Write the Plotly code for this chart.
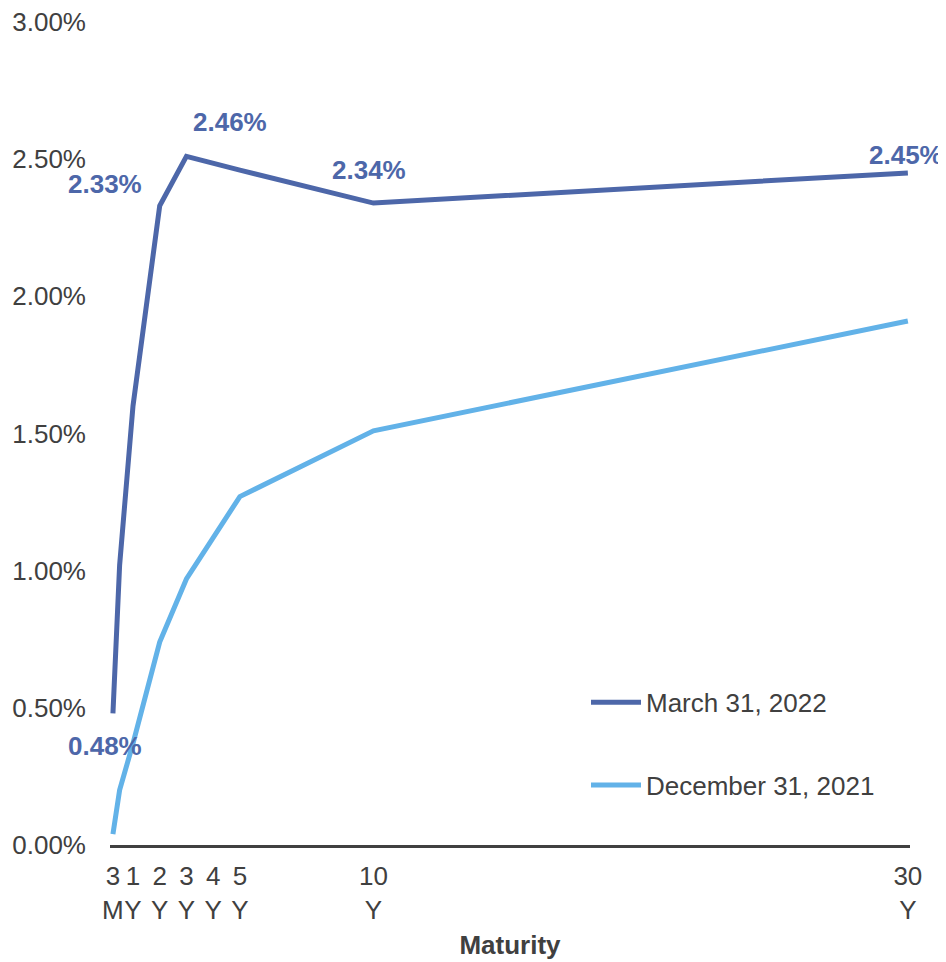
import plotly.graph_objects as go

# Maturity in years
maturity = [0.25, 0.5, 1, 2, 3, 5, 10, 30]
mar_2022 = [0.48, 1.02, 1.60, 2.33, 2.51, 2.46, 2.34, 2.45]
dec_2021 = [0.04, 0.20, 0.37, 0.74, 0.97, 1.27, 1.51, 1.91]

tick_vals = [0.25, 1, 2, 3, 4, 5, 10, 30]
tick_text = ["3<br>M", "1<br>Y", "2<br>Y", "3<br>Y", "4<br>Y", "5<br>Y", "10<br>Y", "30<br>Y"]

y_ticks = [0, 0.5, 1.0, 1.5, 2.0, 2.5, 3.0]
y_text = ["0.00%", "0.50%", "1.00%", "1.50%", "2.00%", "2.50%", "3.00%"]

# labelled points: (maturity, value, text, xshift, yshift)
labels = [
    (0.25, 0.48, "0.48%", -8, -33),
    (2, 2.33, "2.33%", -55, 22),
    (5, 2.46, "2.46%", -10, 48),
    (10, 2.34, "2.34%", -4, 33),
    (30, 2.45, "2.45%", -2, 18),
]

DARK = "#4D67A9"
LIGHT = "#62B2E8"
TXT = "#404040"
FONT = "Liberation Sans, Arial, sans-serif"
FS = 26

fig = go.Figure()
fig.add_trace(go.Scatter(x=maturity, y=mar_2022, mode="lines", name="March 31, 2022",
                         legendgroup="a",
                         line=dict(color=DARK, width=5)))
fig.add_trace(go.Scatter(x=maturity, y=dec_2021, mode="lines", name="December 31, 2021",
                         legendgroup="b",
                         line=dict(color=LIGHT, width=5)))

for mx, v, t, xs, ys in labels:
    fig.add_annotation(x=mx, y=v, text="<b>%s</b>" % t, showarrow=False,
                       xshift=xs, yshift=ys, xanchor="center", yanchor="middle",
                       font=dict(family=FONT, size=FS, color=DARK))

fig.update_layout(
    width=938, height=954,
    margin=dict(l=102, r=36, t=14, b=117),
    paper_bgcolor="white", plot_bgcolor="white",
    font=dict(family=FONT, size=FS, color=TXT),
    showlegend=True,
    legend=dict(x=0.595, y=0.202, xanchor="left", yanchor="top",
                traceorder="grouped", tracegroupgap=46,
                font=dict(family=FONT, size=FS, color=TXT),
                bgcolor="rgba(0,0,0,0)", itemwidth=50),
    xaxis=dict(range=[0.14, 30.08], tickmode="array", tickvals=tick_vals,
               ticktext=tick_text, showgrid=False, zeroline=False,
               showline=True, linecolor=TXT, linewidth=3, ticks="",
               tickangle=0, automargin=False, ticklabeloverflow="allow",
               ticklabelstandoff=6,
               title=dict(text="<b>Maturity</b>", font=dict(size=FS, color=TXT), standoff=12)),
    yaxis=dict(range=[0, 3.0], tickmode="array", tickvals=y_ticks, ticktext=y_text,
               showgrid=False, zeroline=False, showline=False, ticks="",
               automargin=False, ticklabeloverflow="allow",
               ticklabelstandoff=23),
)

fig.write_html("out.html")
